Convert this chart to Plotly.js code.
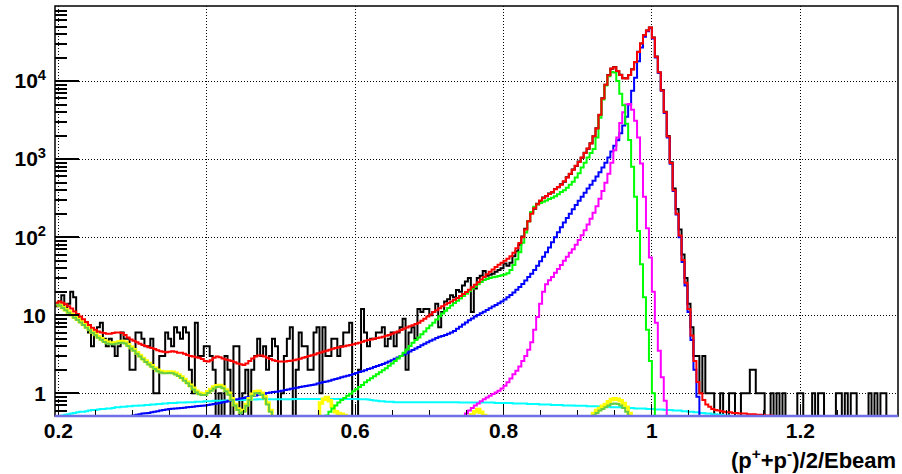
<!DOCTYPE html>
<html>
<head>
<meta charset="utf-8">
<script src="https://cdn.plot.ly/plotly-3.0.1.min.js"></script>
<style>html,body{margin:0;padding:0;background:#fff;}#chart{width:902px;height:474px;}</style>
</head>
<body>
<div id="chart"></div>
<script>
// Histogram binning (bin low edge = binStart + binWidth * index)
const binStart = 0.196;
const binWidth = 0.004;

// Axis tick labels
const xTickVals = [0.2, 0.4, 0.6, 0.8, 1.0, 1.2];
const xTickText = ['0.2', '0.4', '0.6', '0.8', '1', '1.2'];
const yTickVals = [1, 10, 100, 1000, 10000];
const yTickText = ['1', '10', '10<sup>2</sup>', '10<sup>3</sup>', '10<sup>4</sup>'];
const xTitle = '(p<sup>+</sup>+p<sup>-</sup>)/2/Ebeam';

// Data histogram (black), bins 0..283
const dataStart = 0;
const dataCounts = [
 13,15,18,12,14,20,17,10,9,8,
 8,6,4,6,7,8,5,4,5,4,
 3,4,6,5,5,2,2,6,6,5,
 4,4,5,1,1,3,3,6,5,4,
 7,6,5,7,6,2,1,8,3,3,
 4,4,3,2,0,1,0,3,2,0,
 4,4,0,1,2,0,2,3,5,3,
 4,2,3,5,4,0,1,3,5,7,
 0,2,6,4,4,2,2,6,7,1,
 7,3,3,5,5,3,4,6,6,8,
 0,0,2,12,6,4,5,5,6,6,
 7,4,5,6,4,6,7,9,2,6,
 7,5,12,11,12,12,10,11,14,7,
 11,15,16,18,17,21,20,24,27,30,
 11,22,30,32,37,32,33,34,36,38,
 40,46,43,47,57,66,80,102,128,160,
 205,232,268,290,322,335,362,375,415,436,
 478,515,585,645,738,815,930,1040,1210,1360,
 1600,1960,2480,3690,6020,8950,11950,14400,15100,13400,
 12050,10850,10850,11950,14200,17400,23700,30300,38800,44500,
 48600,36100,20600,12900,7700,4050,1980,910,420,230,
 125,60,30,14,7,3,3,1,3,1,
 1,1,0,0,1,0,0,1,1,0,
 0,1,1,1,2,2,1,1,1,0,
 0,1,0,1,0,1,0,0,0,0,
 1,1,0,0,0,1,0,1,1,0,
 0,0,0,1,1,0,1,0,1,1,
 0,0,0,0,1,0,1,0,1,1,
 0,0,0,0
];

// Total fit (red), bins 0..241
const totalStart = 0;
const totalFit = [
 14.5,15,14.5,13.8,13,12.2,11.2,10.4,9.6,8.9,
 8.2,7.5,6.9,6.5,6.2,6.0,5.9,5.8,5.8,5.9,
 6.0,6.0,5.9,5.6,5.2,4.9,4.7,4.5,4.3,4.15,
 4.05,3.9,3.8,3.7,3.55,3.45,3.4,3.35,3.4,3.45,
 3.4,3.3,3.3,3.2,3.1,3.0,2.95,2.9,2.85,2.75,
 2.6,2.55,2.65,2.85,2.95,2.9,2.8,2.7,2.65,2.6,
 2.5,2.4,2.35,2.3,2.4,2.6,2.8,2.95,3.05,3.05,
 2.95,2.85,2.75,2.65,2.6,2.55,2.55,2.55,2.6,2.62,
 2.65,2.7,2.78,2.85,2.92,3.0,3.07,3.15,3.25,3.33,
 3.42,3.5,3.6,3.72,3.8,3.88,3.95,4.02,4.08,4.15,
 4.25,4.35,4.45,4.57,4.7,4.8,4.9,5.0,5.1,5.2,
 5.3,5.45,5.6,5.8,6.0,6.2,6.45,6.7,6.95,7.2,
 7.45,7.7,8.0,8.5,9.0,9.6,10.2,11.0,11.6,12.3,
 13.0,13.7,14.4,15.0,15.8,16.6,17.6,18.7,19.8,21.2,
 22.8,24.5,26.5,28.8,31,33.5,36,38.5,41.5,44.5,
 47,50,53,57,63,72,84,100,125,160,
 200,235,265,295,318,338,358,380,410,440,
 470,520,580,650,730,820,920,1050,1200,1370,
 1590,1970,2460,3700,6000,9000,11900,14500,15000,13500,
 12000,10900,10800,12000,14100,17500,23600,30400,38700,44600,
 48500,36000,20500,13000,7600,4000,1950,890,400,200,
 105,51,26,12,5.5,2.6,1.4,1.0,0.82,0.72,
 0.67,0.63,0.61,0.6,0.59,0.58,0.57,0.57,0.56,0.56,
 0.55,0.55,0.55,0.54,0.54,0.54,0.53,0.53,0.53,0.52,
 0.52,0.52
];

// Green component, bins 90..202
const greenStart = 90;
const greenComp = [
 0.45,0.52,0.58,0.64,0.7,0.76,0.82,0.87,0.93,0.99,
 1.06,1.13,1.2,1.28,1.38,1.47,1.56,1.65,1.75,1.86,
 1.97,2.1,2.25,2.4,2.6,2.8,3.0,3.3,3.65,4.05,
 4.45,4.8,5.2,5.7,6.2,6.8,7.4,8.0,8.8,9.7,
 10.5,11.4,12.4,13.3,14.3,15.3,16.4,17.6,18.8,20.3,
 21.8,23.3,25,26.6,28.3,29.2,30,30.6,31.2,31.8,
 32.5,33.3,34.5,38,44,52,64,85,115,160,
 210,245,262,275,285,296,308,320,335,355,
 378,400,430,470,515,580,660,780,900,1050,
 1200,1350,1900,3400,5800,8800,11500,13100,12900,10000,
 6900,4900,2850,1760,800,330,120,45,17,6.5,
 2.6,1.0,0.3
];

// Blue component, bins 25..217
const blueStart = 25;
const blueComp = [
 0.51,0.52,0.53,0.54,0.55,
 0.555,0.56,0.57,0.58,0.59,0.6,0.61,0.62,0.63,0.635,
 0.64,0.645,0.65,0.655,0.66,0.665,0.67,0.68,0.685,0.69,
 0.7,0.71,0.72,0.73,0.74,0.75,0.77,0.78,0.8,0.81,
 0.83,0.84,0.86,0.87,0.89,0.9,0.92,0.94,0.96,0.98,
 0.99,1.01,1.02,1.04,1.05,1.06,1.08,1.1,1.12,1.14,
 1.16,1.18,1.2,1.22,1.24,1.26,1.28,1.3,1.33,1.36,
 1.39,1.42,1.45,1.49,1.52,1.56,1.6,1.64,1.68,1.72,
 1.77,1.82,1.87,1.92,1.98,2.04,2.1,2.17,2.24,2.31,
 2.38,2.46,2.55,2.65,2.76,2.88,3.0,3.13,3.27,3.42,
 3.58,3.75,3.93,4.12,4.32,4.5,4.7,4.9,5.1,5.3,
 5.4,5.6,5.8,6.0,6.3,6.7,7.1,7.6,8.1,8.6,
 9.1,9.6,10.1,10.6,11.1,11.7,12.3,12.9,13.5,14.2,
 15.0,15.9,17.0,18.2,19.6,21.2,23.0,25.2,27.8,30.8,
 34,38,43,49,56,64,74,86,100,116,
 134,154,176,200,228,258,292,330,372,420,
 470,530,600,680,780,900,1050,1250,1480,1750,
 2150,2700,3500,5000,7500,11000,18000,27000,37000,43500,
 47500,35000,20000,12800,7500,3900,1900,870,390,195,
 100,48,24,11,4.8,2.0,0.9,0.4
];

// Magenta component, bins 137..206
const magentaStart = 137;
const magentaComp = [
 0.48,0.55,0.6,
 0.65,0.7,0.74,0.79,0.84,0.88,0.93,0.98,1.02,1.08,
 1.15,1.25,1.38,1.55,1.75,1.95,2.2,2.6,3.0,3.6,
 4.5,6.5,9.5,14,20,25,28,31,35,39,
 44,50,56,63,70,80,92,106,123,145,
 172,205,250,310,390,500,650,900,1300,1900,
 2900,4000,5000,5100,4300,3100,1900,880,330,130,
 55,20,8,3.5,1.6,0.8,0.35
];

// Cyan component, bins 0..230
const cyanStart = 0;
const cyanComp = [
 0.5,0.51,0.52,0.53,0.54,0.55,0.56,0.57,0.58,0.58,
 0.59,0.6,0.61,0.61,0.62,0.63,0.63,0.64,0.64,0.65,
 0.66,0.66,0.67,0.67,0.68,0.68,0.69,0.69,0.7,0.7,
 0.71,0.71,0.72,0.72,0.73,0.73,0.74,0.74,0.75,0.75,
 0.75,0.76,0.76,0.76,0.77,0.77,0.77,0.78,0.78,0.78,
 0.79,0.79,0.79,0.8,0.8,0.8,0.8,0.81,0.81,0.81,
 0.82,0.82,0.82,0.82,0.83,0.83,0.83,0.83,0.84,0.84,
 0.84,0.84,0.84,0.84,0.84,0.84,0.84,0.84,0.84,0.84,
 0.845,0.845,0.845,0.845,0.845,0.845,0.845,0.845,0.845,0.845,
 0.845,0.845,0.845,0.845,0.845,0.845,0.845,0.845,0.845,0.845,
 0.845,0.845,0.84,0.84,0.84,0.83,0.82,0.81,0.8,0.79,
 0.79,0.78,0.78,0.78,0.77,0.77,0.77,0.77,0.77,0.77,
 0.77,0.77,0.77,0.77,0.77,0.77,0.77,0.77,0.77,0.77,
 0.77,0.77,0.77,0.77,0.77,0.77,0.76,0.76,0.76,0.76,
 0.76,0.76,0.76,0.76,0.76,0.76,0.76,0.76,0.75,0.75,
 0.75,0.75,0.75,0.75,0.74,0.74,0.74,0.74,0.74,0.73,
 0.73,0.73,0.73,0.72,0.72,0.72,0.72,0.71,0.71,0.71,
 0.71,0.7,0.7,0.7,0.7,0.69,0.69,0.69,0.69,0.68,
 0.68,0.68,0.68,0.67,0.67,0.67,0.67,0.66,0.66,0.66,
 0.66,0.65,0.65,0.65,0.65,0.64,0.64,0.64,0.64,0.63,
 0.63,0.63,0.62,0.62,0.62,0.61,0.61,0.61,0.6,0.6,
 0.6,0.59,0.59,0.58,0.58,0.57,0.57,0.56,0.56,0.55,
 0.55,0.54,0.54,0.53,0.53,0.52,0.52,0.51,0.51,0.5,
 0.49
];

// Yellow component, bins 0..194
const yellowStart = 0;
const yellowComp = [
 14.2,13.5,12.6,11.8,11.0,10.2,9.5,8.9,8.3,7.7,
 7.1,6.6,6.1,5.7,5.3,5.0,4.7,4.5,4.4,4.4,
 4.45,4.55,4.6,4.5,4.2,3.9,3.6,3.3,3.05,2.8,
 2.6,2.4,2.25,2.1,1.98,1.9,1.87,1.87,1.88,1.86,
 1.8,1.72,1.62,1.5,1.38,1.27,1.16,1.06,1.0,0.98,
 0.98,1.05,1.12,1.2,1.25,1.26,1.2,1.1,1.0,0.85,
 0.72,0.63,0.58,0.6,0.72,0.85,0.97,1.05,1.06,1.0,
 0.9,0.75,0.6,0.5,0.4,0,0,0,0,0,
 0,0,0,0,0,0,0,0,0,0.75,
 0.84,0.88,0.8,0.68,0.58,0.55,0.54,0.52,0,0,
 0,0,0,0,0,0,0,0,0,0,
 0,0,0,0,0,0,0,0,0,0,
 0,0,0,0,0,0,0,0,0,0,
 0,0,0,0,0,0,0,0,0,0,
 0.53,0.58,0.62,0.57,0.52,0,0,0,0,0,
 0,0,0,0,0,0,0,0,0,0,
 0,0,0,0,0,0,0,0,0,0,
 0,0,0,0,0,0,0,0,0,0,
 0,0.55,0.6,0.64,0.68,0.72,0.78,0.83,0.85,0.84,
 0.8,0.74,0.66,0.55,0
];

// Olive-green component, bins 0..194
const oliveStart = 0;
const oliveComp = [
 14.0,13.3,12.4,11.6,10.8,10.0,9.3,8.7,8.1,7.5,
 6.9,6.4,5.95,5.55,5.15,4.85,4.55,4.35,4.25,4.25,
 4.3,4.4,4.45,4.35,4.05,3.75,3.5,3.2,2.95,2.72,
 2.52,2.33,2.18,2.04,1.92,1.84,1.81,1.81,1.82,1.8,
 1.74,1.66,1.57,1.45,1.34,1.23,1.12,1.03,0.97,0.95,
 0.95,1.01,1.08,1.15,1.2,1.21,1.16,1.06,0.96,0.82,
 0.7,0.61,0.56,0.58,0.69,0.82,0.93,1.0,1.01,0.96,
 0.86,0.72,0.58,0.48,0.38,0,0,0,0,0,
 0,0,0,0,0,0,0,0,0,0,
 0,0,0,0,0,0,0,0,0,0,
 0,0,0,0,0,0,0,0,0,0,
 0,0,0,0,0,0,0,0,0,0,
 0,0,0,0,0,0,0,0,0,0,
 0,0,0,0,0,0,0,0,0,0,
 0,0,0,0,0,0,0,0,0,0,
 0,0,0,0,0,0,0,0,0,0,
 0,0,0,0,0,0,0,0,0,0,
 0,0,0,0,0,0,0,0,0,0,
 0,0.52,0.56,0.6,0.63,0.66,0.7,0.73,0.74,0.73,
 0.7,0.65,0.58,0.5,0
];

// y-axis minor ticks
const yMinorVals = [0.6,0.7,0.8,0.9,
 2,3,4,5,6,7,8,9,
 20,30,40,50,60,70,80,90,
 200,300,400,500,600,700,800,900,
 2000,3000,4000,5000,6000,7000,8000,9000,
 20000,30000,40000,50000,60000,70000,80000,90000];

const FLOOR = 0.05; // empty bins drawn below the visible range (clipped)

function stepTrace(start, vals, color, width, name, yaxis) {
  const x = [], y = [];
  for (let i = 0; i < vals.length; i++) {
    x.push(binStart + binWidth * (start + i));
    y.push(vals[i] > 0 ? vals[i] : FLOOR);
  }
  x.push(binStart + binWidth * (start + vals.length));
  y.push(vals[vals.length - 1] > 0 ? vals[vals.length - 1] : FLOOR);
  return {
    type: 'scatter', mode: 'lines', name: name, x: x, y: y,
    yaxis: yaxis || 'y',
    line: {shape: 'hv', color: color, width: width},
    hoverinfo: 'skip', showlegend: false
  };
}

const traces = [
  stepTrace(dataStart, dataCounts, '#000000', 2, 'data'),
  stepTrace(cyanStart, cyanComp, '#00ffff', 2, 'cyan'),
  stepTrace(blueStart, blueComp, '#0000ff', 2, 'blue'),
  stepTrace(magentaStart, magentaComp, '#ff00ff', 2, 'magenta'),
  stepTrace(yellowStart, yellowComp, '#ffff00', 3.5, 'yellow'),
  stepTrace(oliveStart, oliveComp, '#66cc44', 2, 'olive'),
  stepTrace(greenStart, greenComp, '#00ff00', 2, 'green'),
  stepTrace(totalStart, totalFit, '#ff0000', 2, 'total', 'y2')
];

const tickFont = {family: 'Liberation Sans, Arial, sans-serif', size: 21, color: '#000', weight: 'bold'};
const yRange = [-0.291, 4.962];

const layout = {
  width: 902, height: 474,
  margin: {l: 55, r: 4, t: 6, b: 58},
  paper_bgcolor: '#ffffff', plot_bgcolor: '#ffffff',
  showlegend: false,
  xaxis: {
    range: [0.1955, 1.3317],
    tickmode: 'array', tickvals: xTickVals, ticktext: xTickText,
    ticks: 'inside', ticklen: 12, tickwidth: 1, tickcolor: '#000',
    ticklabelstandoff: 0,
    showgrid: true, gridcolor: '#000', griddash: '1px,2px', gridwidth: 1,
    minor: {dtick: 0.05, tick0: 0.2, ticks: 'inside', ticklen: 6, tickcolor: '#000', tickwidth: 1, showgrid: false},
    zeroline: false, showline: false,
    tickfont: tickFont
  },
  yaxis: {
    type: 'log',
    range: yRange,
    tickmode: 'array', tickvals: yTickVals, ticktext: yTickText,
    ticks: 'inside', ticklen: 24, tickwidth: 2, tickcolor: '#000',
    ticklabelstandoff: 8,
    showgrid: true, gridcolor: '#000', griddash: '1px,2px', gridwidth: 1,
    zeroline: false, showline: false,
    tickfont: tickFont
  },
  yaxis2: {
    type: 'log',
    range: yRange,
    overlaying: 'y', side: 'left',
    tickmode: 'array', tickvals: yMinorVals,
    ticks: 'inside', ticklen: 12, tickwidth: 2, tickcolor: '#000',
    showticklabels: false, showgrid: false, zeroline: false, showline: false
  },
  shapes: [
    {type: 'rect', xref: 'paper', yref: 'paper', x0: 0, x1: 1, y0: 0, y1: 1,
     line: {color: '#000', width: 1.5}, layer: 'above'},
    {type: 'line', xref: 'paper', yref: 'paper', x0: 0, x1: 1, y0: 0, y1: 0,
     line: {color: '#6f6fe8', width: 2.5}, layer: 'above'}
  ],
  annotations: [
    {xref: 'paper', yref: 'paper', x: 1, y: 0, xanchor: 'right', yanchor: 'top',
     yshift: -27, text: xTitle, showarrow: false,
     font: {family: 'Liberation Sans, Arial, sans-serif', size: 22, color: '#000', weight: 'bold'}}
  ]
};

Plotly.newPlot('chart', traces, layout, {staticPlot: true, displayModeBar: false});
</script>
</body>
</html>
